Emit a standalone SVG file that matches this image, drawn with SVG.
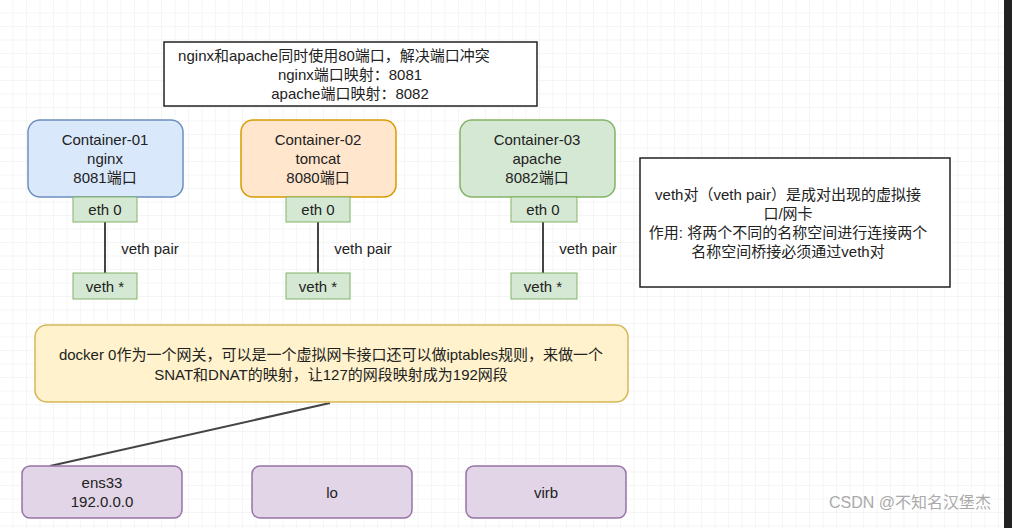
<svg xmlns="http://www.w3.org/2000/svg" width="1012" height="528" viewBox="0 0 1012 528">
<defs>
<pattern id="g" width="13.5" height="13.5" patternUnits="userSpaceOnUse"><path d="M13.5 0V13.5H0" fill="none" stroke="#ececec" stroke-width="1"/></pattern>
<style>
text{font-family:"Liberation Sans","Noto Sans CJK SC",sans-serif;font-size:15px;fill:#222;text-anchor:middle}
.eth{fill:#d5e8d4;stroke:#82b366}
.pur{fill:#e1d5e7;stroke:#9673a6}
.ln{stroke:#444;stroke-width:2;fill:none}
</style>
</defs>
<rect width="1012" height="528" fill="#fff"/>
<rect width="1003" height="528" fill="url(#g)"/>
<rect x="1004" y="0" width="8" height="528" fill="#222"/>
<g id="connectors">
<path class="ln" d="M105 222V273M318 222V273M543 222V273M330 403L50 466"/>
<text x="150" y="254">veth pair</text>
<text x="363" y="254">veth pair</text>
<text x="588" y="254">veth pair</text>
</g>
<g id="note1"><rect x="164" y="42" width="373" height="64" fill="#fff" stroke="#222" stroke-width="1.5"/>
<text x="334" y="61">nginx和apache同时使用80端口，解决端口冲突</text>
<text x="350" y="80">nginx端口映射：8081</text>
<text x="350" y="99">apache端口映射：8082</text></g>
<g id="c1"><rect x="28" y="120" width="155" height="77" rx="12" fill="#dae8fc" stroke="#6c8ebf" stroke-width="1.5"/>
<text x="105" y="145">Container-01</text><text x="105" y="164">nginx</text><text x="105" y="183">8081端口</text></g>
<g id="c2"><rect x="241" y="120" width="155" height="77" rx="12" fill="#ffe6cc" stroke="#d79b00" stroke-width="1.5"/>
<text x="318" y="145">Container-02</text><text x="318" y="164">tomcat</text><text x="318" y="183">8080端口</text></g>
<g id="c3"><rect x="460" y="120" width="155" height="77" rx="12" fill="#d5e8d4" stroke="#82b366" stroke-width="1.5"/>
<text x="537" y="145">Container-03</text><text x="537" y="164">apache</text><text x="537" y="183">8082端口</text></g>
<g id="eth1"><rect class="eth" x="73" y="197" width="64" height="25"/><text x="105" y="215">eth 0</text></g>
<g id="eth2"><rect class="eth" x="286" y="197" width="64" height="25"/><text x="318" y="215">eth 0</text></g>
<g id="eth3"><rect class="eth" x="511" y="197" width="66" height="25"/><text x="543" y="215">eth 0</text></g>
<g id="veth1"><rect class="eth" x="73" y="273" width="64" height="26"/><text x="105" y="292">veth *</text></g>
<g id="veth2"><rect class="eth" x="286" y="273" width="64" height="26"/><text x="318" y="292">veth *</text></g>
<g id="veth3"><rect class="eth" x="511" y="273" width="66" height="26"/><text x="543" y="292">veth *</text></g>
<g id="note2"><rect x="640" y="158" width="310" height="129" fill="#fff" stroke="#222" stroke-width="1.5"/>
<text x="788" y="200">veth对（veth pair）是成对出现的虚拟接</text>
<text x="788" y="219">口/网卡</text>
<text x="788" y="238">作用: 将两个不同的名称空间进行连接两个</text>
<text x="788" y="257">名称空间桥接必须通过veth对</text></g>
<g id="docker"><rect x="35" y="325" width="593" height="77" rx="12" fill="#fff2cc" stroke="#d6b656" stroke-width="1.5"/>
<text x="331" y="360">docker 0作为一个网关，可以是一个虚拟网卡接口还可以做iptables规则，来做一个</text>
<text x="331" y="380">SNAT和DNAT的映射，让127的网段映射成为192网段</text></g>
<g id="ens33"><rect class="pur" x="22" y="466" width="160" height="52" rx="8" stroke-width="1.5"/><text x="102" y="488">ens33</text><text x="102" y="507">192.0.0.0</text></g>
<g id="lo"><rect class="pur" x="252" y="466" width="160" height="52" rx="8" stroke-width="1.5"/><text x="332" y="498">lo</text></g>
<g id="virb"><rect class="pur" x="466" y="466" width="160" height="52" rx="8" stroke-width="1.5"/><text x="546" y="498">virb</text></g>
<text x="910" y="508" style="fill:#aaa;font-size:16px">CSDN @不知名汉堡杰</text>
</svg>
